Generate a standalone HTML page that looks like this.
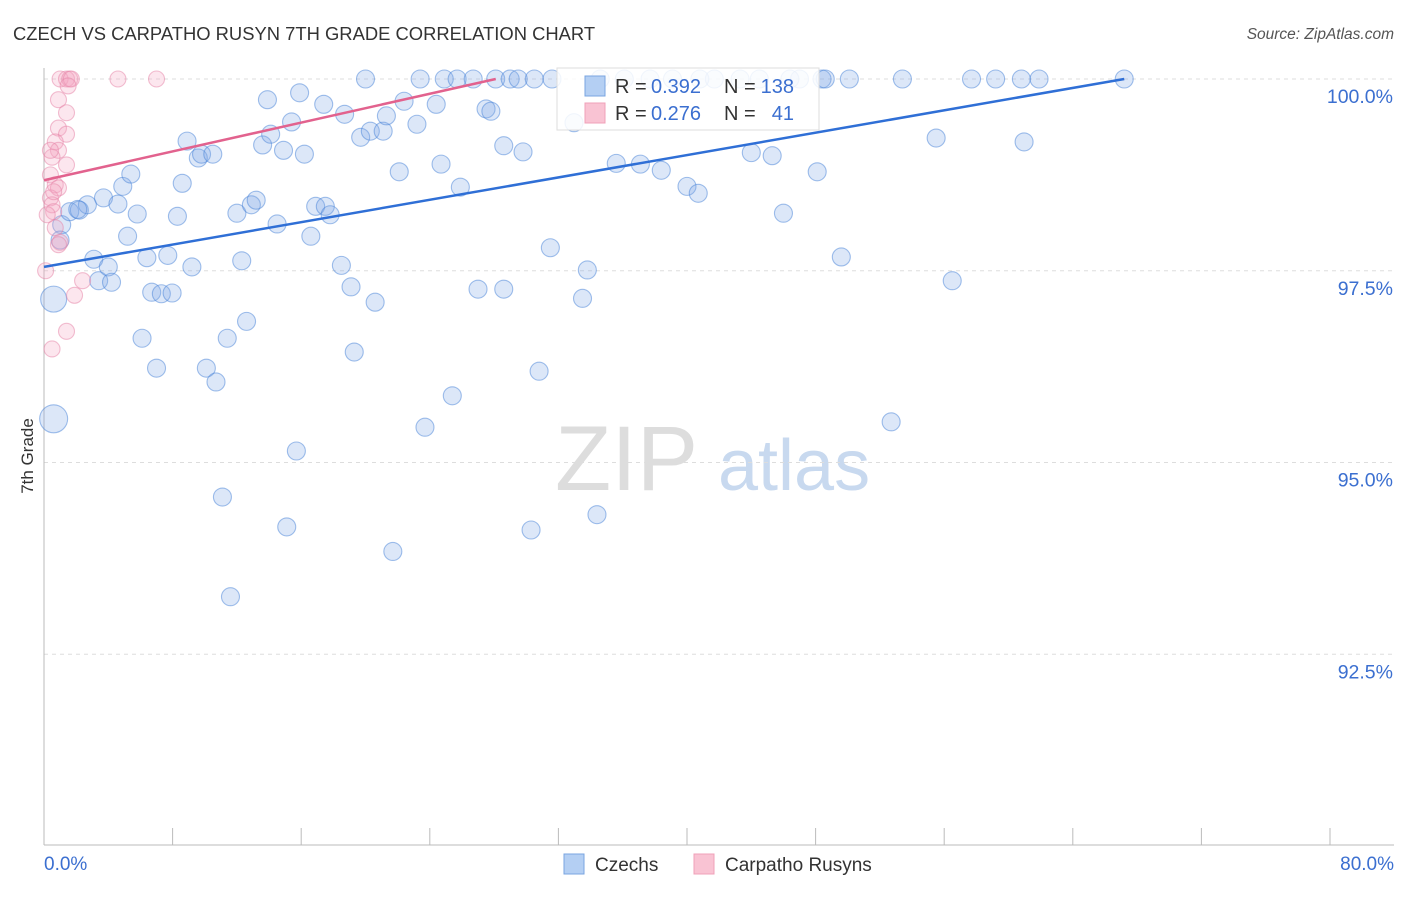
<!DOCTYPE html>
<html><head><meta charset="utf-8"><style>
body{margin:0;background:#fff;font-family:"Liberation Sans",sans-serif}
svg text{font-family:"Liberation Sans",sans-serif}
</style></head><body>
<svg id="chart" width="1406" height="892" xmlns="http://www.w3.org/2000/svg">
<text x="13" y="40" font-size="18.4" fill="#333">CZECH VS CARPATHO RUSYN 7TH GRADE CORRELATION CHART</text>
<text x="1394" y="39" font-size="15.5" fill="#555" font-style="italic" text-anchor="end">Source: ZipAtlas.com</text>
<g><text x="555" y="490" font-size="92" fill="#ddd" font-family="Liberation Serif">ZIP</text><text x="718" y="490" font-size="72" fill="#c8d9ef">atlas</text></g>
<g id="grid"></g><g id="axes"></g><g id="pts"></g><g id="trends"></g>
<g>
<rect x="557" y="68" width="262" height="62" fill="rgba(255,255,255,0.85)" stroke="#ddd"/>
<rect x="585" y="76" width="20" height="20" fill="#b4cff3" stroke="#7aa4e0"/>
<rect x="585" y="103" width="20" height="20" fill="#f9c3d3" stroke="#f0a0b8"/>
<text x="615" y="93" font-size="20" fill="#333">R =</text><text x="651" y="93" font-size="20" fill="#3b6fd0">0.392</text>
<text x="724" y="93" font-size="20" fill="#333">N =</text><text x="794" y="93" font-size="20" fill="#3b6fd0" text-anchor="end">138</text>
<text x="615" y="120" font-size="20" fill="#333">R =</text><text x="651" y="120" font-size="20" fill="#3b6fd0">0.276</text>
<text x="724" y="120" font-size="20" fill="#333">N =</text><text x="794" y="120" font-size="20" fill="#3b6fd0" text-anchor="end">41</text>
</g>
<text transform="translate(33,456) rotate(-90)" font-size="17" fill="#333" text-anchor="middle">7th Grade</text>
<text x="44" y="870" font-size="19" fill="#3b6fd0">0.0%</text>
<text x="1394" y="870" font-size="19" fill="#3b6fd0" text-anchor="end">80.0%</text>
<g>
<rect x="564" y="854" width="20" height="20" fill="#b4cff3" stroke="#7aa4e0"/>
<text x="595" y="871" font-size="19" fill="#333">Czechs</text>
<rect x="694" y="854" width="20" height="20" fill="#f9c3d3" stroke="#f0a0b8"/>
<text x="725" y="871" font-size="19" fill="#333">Carpatho Rusyns</text>
</g>
</svg>
<script>
const yTicks=[100,97.5,95,92.5];
const yTickLabels=["100.0%","97.5%","95.0%","92.5%"];
const blueX=[0.6,0.6,1.1,1.6,2.2,2.7,2.1,1.0,3.1,3.4,3.7,4.0,4.2,4.6,4.9,5.2,5.4,5.8,6.1,6.4,6.7,7.0,7.3,7.7,7.97,8.3,8.6,8.9,9.2,9.6,9.8,10.1,10.5,10.7,11.1,11.4,11.6,12.0,12.3,12.6,12.9,13.2,13.6,13.9,14.1,14.5,14.9,15.1,15.4,15.7,15.9,16.2,16.6,16.9,17.4,17.5,17.8,18.5,18.7,19.1,19.3,19.7,20.0,20.3,20.6,21.1,21.3,21.7,22.1,22.4,23.2,23.4,23.7,24.4,24.7,24.9,25.4,25.7,25.9,26.7,27.0,27.5,27.8,28.1,28.6,28.6,29.0,29.5,29.8,30.3,30.5,30.8,31.5,31.6,32.97,33.5,33.8,34.4,34.6,35.6,36.1,37.1,38.4,39.1,40.0,40.7,41.7,43.3,44.0,45.3,46.0,47.0,48.1,48.4,48.6,49.6,50.1,52.7,53.4,55.5,56.5,57.7,59.2,60.8,60.97,61.9,67.2,37.7,40.8,44.5,46.4];
const blueY=[97.13,95.57,98.10,98.27,98.29,98.36,98.30,97.90,97.65,97.37,98.45,97.55,97.35,98.37,98.60,97.95,98.76,98.24,96.62,97.67,97.22,96.23,97.20,97.70,97.21,98.21,98.64,99.19,97.55,98.97,99.02,96.23,99.02,96.05,94.55,96.62,93.25,98.25,97.63,96.84,98.36,98.42,99.14,99.73,99.28,98.11,99.07,94.16,99.44,95.15,99.82,99.02,97.95,98.34,99.67,98.34,98.23,97.57,99.54,97.29,96.44,99.24,100,99.32,97.09,99.32,99.52,93.84,98.79,99.71,99.41,100,95.46,99.67,98.89,100,95.87,100,98.59,100,97.26,99.61,99.58,100,99.13,97.26,100,100,99.05,94.12,100,96.19,97.80,100,99.43,97.14,97.51,94.32,100,98.90,100,98.89,98.81,100,98.60,98.51,100,100,99.04,99.00,98.25,100,98.79,100,100,97.68,100,95.53,100,99.23,97.37,100,100,100,99.18,100,100,100,100,100,100];
const blueR=[13,14];
const pinkX=[1.0,1.4,1.6,1.7,4.6,7.0,1.5,0.9,1.4,0.9,1.4,0.7,0.9,0.5,1.4,0.4,0.7,0.9,0.4,0.5,0.6,0.2,0.7,1.0,0.9,0.1,2.4,1.9,1.4,0.5,0.4,0.6];
const pinkY=[100,100,100,100,100,100,99.91,99.73,99.56,99.36,99.28,99.18,99.07,98.98,98.88,98.75,98.62,98.58,98.45,98.36,98.27,98.23,98.06,97.87,97.84,97.50,97.37,97.18,96.71,96.48,99.07,98.53];
const blueTrend=[[0,97.55],[67.2,100]];
const pinkTrend=[[0,98.68],[28.1,100]];
const NS="http://www.w3.org/2000/svg";
const sx=v=>44+v/80*1286, sy=v=>79+(100-v)*76.7;
function mk(t,a,p){const e=document.createElementNS(NS,t);for(const k in a)e.setAttribute(k,a[k]);document.getElementById(p).appendChild(e);return e;}
yTicks.forEach((t,i)=>{
 const l=mk('line',{x1:44,x2:1394,y1:sy(t),y2:sy(t),stroke:'#ddd','stroke-dasharray':'4,4'},'grid');
 
 
 const tx=mk('text',{x:1393,y:sy(t)+24,'font-size':19.5,fill:'#3b6fd0','text-anchor':'end'},'grid');
 tx.textContent=yTickLabels[i];
 
 
});
const ax=mk('line',{x1:44,x2:1394,y1:845,y2:845,stroke:'#bbb'},'axes');


const ay=mk('line',{x1:44,x2:44,y1:68,y2:845,stroke:'#bbb'},'axes');


for(let i=0;i<=10;i++){const t=mk('line',{x1:sx(i*8),x2:sx(i*8),y1:828,y2:845,stroke:'#bbb'},'axes');
 
 }
blueX.forEach((x,i)=>{const c=mk('circle',{cx:sx(x),cy:sy(blueY[i]),r:blueR[i]||9,fill:'rgba(130,170,230,0.28)',stroke:'rgba(70,130,215,0.5)','stroke-width':1.1},'pts');
 
 });
pinkX.forEach((x,i)=>{const c=mk('circle',{cx:sx(x),cy:sy(pinkY[i]),r:8,fill:'rgba(245,165,195,0.28)',stroke:'rgba(230,130,165,0.5)','stroke-width':1.1},'pts');
 
 });
const tb=mk('line',{x1:sx(blueTrend[0][0]),y1:sy(blueTrend[0][1]),x2:sx(blueTrend[1][0]),y2:sy(blueTrend[1][1]),stroke:'#2f6fd6','stroke-width':2.5},'trends');


const tp=mk('line',{x1:sx(pinkTrend[0][0]),y1:sy(pinkTrend[0][1]),x2:sx(pinkTrend[1][0]),y2:sy(pinkTrend[1][1]),stroke:'#e2628e','stroke-width':2.5},'trends');


</script>
</body></html>
